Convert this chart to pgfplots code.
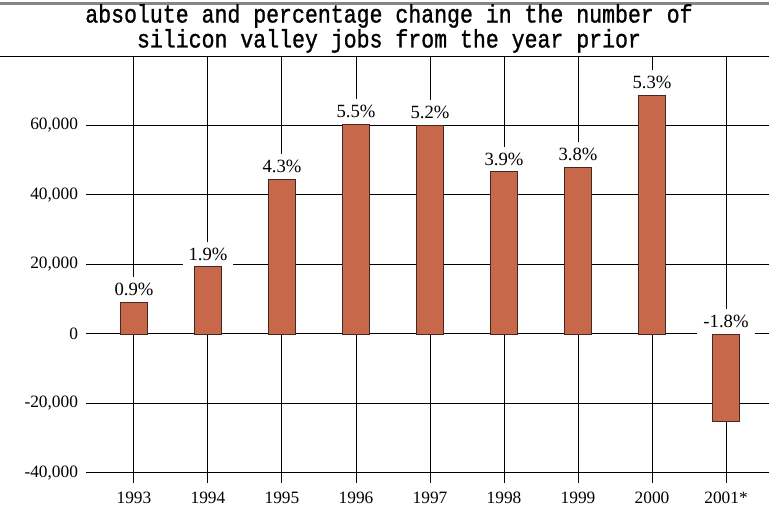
\documentclass[border=0pt]{standalone}
\usepackage{fontspec}
\setmainfont{Liberation Serif}
\newfontfamily\titlefont[FakeBold=1.2]{Liberation Mono}
\usepackage{pgfplots}
\pgfplotsset{compat=1.18}
\usepackage{pgfplotstable}
\definecolor{barfill}{RGB}{200,104,74}
\definecolor{baredge}{RGB}{70,40,30}

% year index, job change, label height, percent label
\pgfplotstableread{
x  jobs    ly     lab
0  9200    9200   0.9
1  19370   19370  1.9
2  44600   44600  4.3
3  60340   60340  5.5
4  60050   60050  5.2
5  46720   46720  3.9
6  48060   48060  3.8
7  68780   68780  5.3
8  -25040  0      -1.8
}\jobsdata

\begin{document}
\begin{tikzpicture}
\path[use as bounding box] (0,0) rectangle (576.75pt,385.5pt);
\begin{axis}[
  at={(64.5pt,23.25pt)}, anchor=south west,
  scale only axis,
  width=512.25pt, height=319.5pt,
  xmin=-0.6486, xmax=8.581,
  ymin=-42880, ymax=79700,
  xtick={0,1,2,3,4,5,6,7,8},
  xticklabels={1993,1994,1995,1996,1997,1998,1999,2000,2001*},
  ytick={-40000,-20000,0,20000,40000,60000},
  yticklabels={{-40,000},{-20,000},{0},{20,000},{40,000},{60,000}},
  scaled y ticks=false,
  axis line style={draw=none},
  major tick length=0pt,
  xmajorgrids, ymajorgrids,
  grid style={black, line width=0.75pt},
  tick label style={font=\fontsize{13}{14}\selectfont},
  xticklabel style={yshift=-3.25pt},
  yticklabel style={xshift=-2.5pt},
]
\addplot[ybar, bar width=20pt, fill=barfill, draw=baredge, line width=0.6pt]
  table[x=x, y=jobs]{\jobsdata};
\addplot[draw=none, mark=none, point meta=explicit symbolic,
  nodes near coords={\pgfplotspointmeta\%},
  nodes near coords style={anchor=south, fill=white, inner sep=4.5pt,
    font=\fontsize{14}{16}\selectfont}]
  table[x=x, y=ly, meta=lab]{\jobsdata};
\end{axis}
\draw[gray!95, line width=2pt] (0,382.7pt) -- (576.75pt,382.7pt);
\draw[black, line width=0.75pt] (0,342.75pt) -- (576.75pt,342.75pt);
\node[anchor=base, align=center, xscale=0.85, inner sep=0pt,
  font=\titlefont\fontsize{19}{15}\selectfont] at (291.75pt,349.9pt)
  {absolute and percentage change in the number of\\silicon valley jobs from the year prior};
\end{tikzpicture}
\end{document}
